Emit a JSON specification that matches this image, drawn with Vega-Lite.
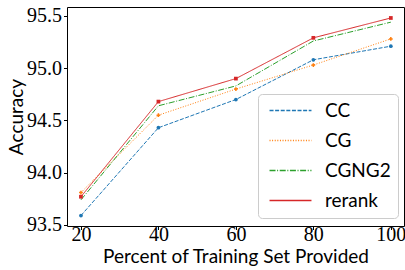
{
  "$schema": "https://vega.github.io/schema/vega-lite/v6.json",
  "width": 337,
  "height": 219,
  "autosize": "none",
  "padding": {"left": 67, "top": 7, "right": 1, "bottom": 44},
  "background": "white",
  "config": {
    "view": {"stroke": "black", "strokeWidth": 1},
    "axis": {
      "grid": false,
      "domain": false,
      "tickColor": "black",
      "tickSize": 3.5,
      "tickWidth": 1,
      "labelFont": "Liberation Serif",
      "labelFontSize": 20,
      "labelColor": "black",
      "titleFont": "Lato",
      "titleFontSize": 19,
      "titleFontWeight": "normal",
      "titleColor": "black"
    }
  },
  "resolve": {"legend": {"color": "independent", "shape": "independent", "strokeDash": "independent"}},
  "data": {
    "values": [
      {"pct": 20, "method": "CC", "acc": 93.59},
      {"pct": 40, "method": "CC", "acc": 94.43},
      {"pct": 60, "method": "CC", "acc": 94.70},
      {"pct": 80, "method": "CC", "acc": 95.08},
      {"pct": 100, "method": "CC", "acc": 95.21},
      {"pct": 20, "method": "CG", "acc": 93.81},
      {"pct": 40, "method": "CG", "acc": 94.55},
      {"pct": 60, "method": "CG", "acc": 94.80},
      {"pct": 80, "method": "CG", "acc": 95.03},
      {"pct": 100, "method": "CG", "acc": 95.28},
      {"pct": 20, "method": "CGNG2", "acc": 93.74},
      {"pct": 40, "method": "CGNG2", "acc": 94.64},
      {"pct": 60, "method": "CGNG2", "acc": 94.83},
      {"pct": 80, "method": "CGNG2", "acc": 95.26},
      {"pct": 100, "method": "CGNG2", "acc": 95.44},
      {"pct": 20, "method": "rerank", "acc": 93.77},
      {"pct": 40, "method": "rerank", "acc": 94.68},
      {"pct": 60, "method": "rerank", "acc": 94.90},
      {"pct": 80, "method": "rerank", "acc": 95.29},
      {"pct": 100, "method": "rerank", "acc": 95.48}
    ]
  },
  "encoding": {
    "x": {
      "field": "pct", "type": "quantitative",
      "scale": {"domain": [16.4, 103.4], "nice": false, "zero": false},
      "axis": {"values": [20, 40, 60, 80, 100], "title": "Percent of Training Set Provided", "titlePadding": 3, "labelPadding": -5}
    },
    "y": {
      "field": "acc", "type": "quantitative",
      "scale": {"domain": [93.49, 95.585], "nice": false, "zero": false},
      "axis": {"values": [93.5, 94, 94.5, 95, 95.5], "format": ".1f", "title": "Accuracy", "titlePadding": 0, "labelPadding": 2}
    }
  },
  "layer": [
    {
      "mark": {"type": "line", "strokeWidth": 1},
      "encoding": {
        "color": {
          "field": "method", "type": "nominal",
          "scale": {"domain": ["CC", "CG", "CGNG2", "rerank"], "range": ["#1f77b4", "#ff7f0e", "#2ca02c", "#d62728"]},
          "legend": {
            "title": null,
            "orient": "none",
            "legendX": 191,
            "legendY": 87,
            "symbolType": "M-4,0H4",
            "symbolSize": 110,
            "symbolStrokeWidth": 1.5,
            "symbolOffset": 16,
            "labelFont": "Lato",
            "labelFontSize": 19,
            "labelColor": "black",
            "labelOffset": 25,
            "rowPadding": 10,
            "padding": 7,
            "strokeColor": "#cccccc",
            "fillColor": "white",
            "cornerRadius": 4,
            "labelLimit": 200
          }
        },
        "strokeDash": {
          "field": "method", "type": "nominal",
          "scale": {"domain": ["CC", "CG", "CGNG2", "rerank"], "range": [[4, 1.6], [1, 1.6], [6, 1.6, 1, 1.6], [1, 0]]},
          "legend": {"title": null}
        }
      }
    },
    {
      "mark": {"type": "point", "filled": true, "size": 14, "opacity": 1},
      "encoding": {
        "color": {"field": "method", "type": "nominal", "legend": null},
        "shape": {
          "field": "method", "type": "nominal",
          "scale": {"domain": ["CC", "CG", "CGNG2", "rerank"], "range": ["circle", "cross", "M-1,-1L1,1M-1,1L1,-1", "square"]},
          "legend": null
        }
      }
    }
  ]
}
